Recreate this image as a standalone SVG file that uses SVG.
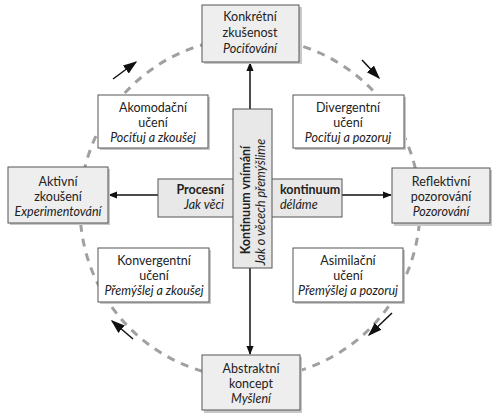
<svg xmlns="http://www.w3.org/2000/svg" width="500" height="417" viewBox="0 0 500 417">
<defs>
<marker id="ah" viewBox="0 0 10 10" refX="9" refY="5" markerWidth="9" markerHeight="9" markerUnits="userSpaceOnUse" orient="auto">
<path d="M0,1 L10,5 L0,9 z" fill="#111"/>
</marker>
<marker id="ahb" viewBox="0 0 10 10" refX="9" refY="5" markerWidth="14" markerHeight="14" markerUnits="userSpaceOnUse" orient="auto">
<path d="M0,1.5 L10,5 L0,8.5 z" fill="#111"/>
</marker>
</defs>
<style>
text{font-family:Lato,"Open Sans","Liberation Sans",sans-serif;font-size:12.5px;fill:#222;text-anchor:middle}
.i{font-style:italic}
.b{font-weight:bold}
.sh{fill:#c8c8c8}
.gbox{fill:#eeeeee;stroke:#555;stroke-width:1}
.wbox{fill:#fff;stroke:#555;stroke-width:1}
.bar{fill:#e8e8e8;stroke:#555;stroke-width:1}
.con{stroke:#111;stroke-width:1.5;fill:none}
</style>
<rect width="500" height="417" fill="#fff"/>
<circle cx="250" cy="208" r="170" fill="none" stroke="#a0a0a0" stroke-width="3" stroke-dasharray="8 7"/>
<g id="connectors">
<line class="con" x1="250" y1="208" x2="250" y2="63" marker-end="url(#ah)"/>
<line class="con" x1="250" y1="208" x2="250" y2="354" marker-end="url(#ah)"/>
<line class="con" x1="250" y1="195" x2="109" y2="195" marker-end="url(#ah)"/>
<line class="con" x1="250" y1="195" x2="391" y2="195" marker-end="url(#ah)"/>
<line class="con" x1="113" y1="79" x2="136" y2="62" marker-end="url(#ahb)"/>
<line class="con" x1="362" y1="60" x2="379" y2="78" marker-end="url(#ahb)"/>
<line class="con" x1="392" y1="313" x2="369" y2="335" marker-end="url(#ahb)"/>
<line class="con" x1="133" y1="339" x2="112" y2="321" marker-end="url(#ahb)"/>
</g>
<g id="konkretni">
<rect class="sh" x="204" y="7" width="98" height="57"/>
<rect class="gbox" x="202" y="5" width="97" height="57"/>
<text x="250" y="21">Konkrétní</text>
<text x="250" y="37">zkušenost</text>
<text x="250" y="53" class="i">Pociťování</text>
</g>
<g id="aktivni">
<rect class="sh" x="10" y="169" width="100" height="56"/>
<rect class="gbox" x="8" y="167" width="100" height="56"/>
<text x="58" y="186">Aktivní</text>
<text x="58" y="201">zkoušení</text>
<text x="58" y="216" class="i">Experimentování</text>
</g>
<g id="reflektivni">
<rect class="sh" x="394" y="170" width="98" height="56"/>
<rect class="gbox" x="392" y="168" width="98" height="55"/>
<text x="441" y="186">Reflektivní</text>
<text x="441" y="201">pozorování</text>
<text x="441" y="216" class="i">Pozorování</text>
</g>
<g id="abstraktni">
<rect class="sh" x="204" y="357" width="98" height="56"/>
<rect class="gbox" x="202" y="355" width="98" height="55"/>
<text x="251" y="373">Abstraktní</text>
<text x="251" y="388">koncept</text>
<text x="251" y="403" class="i">Myšlení</text>
</g>
<g id="akomodacni">
<rect class="sh" x="100" y="97" width="110" height="53"/>
<rect class="wbox" x="98" y="95" width="110" height="53"/>
<text x="153" y="112">Akomodační</text>
<text x="153" y="127">učení</text>
<text x="153" y="142" class="i">Pociťuj a zkoušej</text>
</g>
<g id="divergentni">
<rect class="sh" x="295" y="97" width="111" height="53"/>
<rect class="wbox" x="293" y="95" width="111" height="53"/>
<text x="348" y="112">Divergentní</text>
<text x="348" y="127">učení</text>
<text x="348" y="142" class="i">Pociťuj a pozoruj</text>
</g>
<g id="konvergentni">
<rect class="sh" x="100" y="250" width="111" height="54"/>
<rect class="wbox" x="98" y="248" width="111" height="54"/>
<text x="154" y="265">Konvergentní</text>
<text x="154" y="280">učení</text>
<text x="154" y="295" class="i">Přemýšlej a zkoušej</text>
</g>
<g id="asimilacni">
<rect class="sh" x="295" y="250" width="110" height="54"/>
<rect class="wbox" x="293" y="248" width="110" height="54"/>
<text x="348" y="265">Asimilační</text>
<text x="348" y="280">učení</text>
<text x="348" y="295" class="i">Přemýšlej a pozoruj</text>
</g>
<g id="procesni">
<rect class="bar" x="158" y="179" width="184" height="38"/>
<text x="224" y="194" class="b" style="text-anchor:end">Procesní</text>
<text x="224" y="209" class="i" style="text-anchor:end">Jak věci</text>
<text x="280" y="194" class="b" style="text-anchor:start">kontinuum</text>
<text x="280" y="209" class="i" style="text-anchor:start">déláme</text>
</g>
<g id="vnimani">
<rect class="bar" x="233" y="109" width="39" height="159"/>
<text transform="translate(250,200) rotate(-90)" class="b">Kontinuum vnímání</text>
<text transform="translate(265,202) rotate(-90)" class="i">Jak o věcech přemýšlime</text>
</g>
</svg>
